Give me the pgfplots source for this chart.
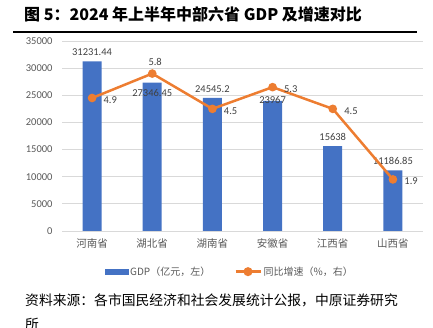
\documentclass[border=0pt]{standalone}
\usepackage{fontspec}
\usepackage{pgfplots}
\pgfplotsset{compat=1.18}
\setmainfont{Carlito}
\newfontfamily\cjk{Noto Sans CJK SC}
\definecolor{barblue}{HTML}{4472C4}
\definecolor{lineor}{HTML}{ED7D31}
\definecolor{gridc}{HTML}{D9D9D9}
\definecolor{tickc}{HTML}{595959}
\definecolor{lblc}{HTML}{404040}
\pgfplotstableread{
x y lab
0 31231.44 31231.44
1 27346.45 27346.45
2 24545.2 24545.2
3 23967 23967
4 15638 15638
5 11186.85 11186.85
}\gdp
\pgfplotstableread{
x y
0 4.9
1 5.8
2 4.5
3 5.3
4 4.5
5 1.9
}\growth
\begin{document}
\begin{tikzpicture}
\path[use as bounding box] (0bp,0bp) rectangle (433bp,328bp);
\node[anchor=west, inner sep=0] at (24bp,314bp) {\cjk\bfseries\fontsize{16bp}{18bp}\selectfont 图 5：2024 年上半年中部六省 GDP 及增速对比};
\draw[line width=2.5bp] (13bp,296bp) -- (417bp,296bp);
\begin{axis}[at={(62bp,97bp)}, anchor=south west, scale only axis,
  width=361bp, height=190bp,
  xmin=-0.5, xmax=5.5, ymin=0, ymax=35000,
  ytick={0,5000,...,35000}, xtick={0,...,5},
  xticklabels={河南省,湖北省,湖南省,安徽省,江西省,山西省},
  axis line style={draw=none}, major tick length=0pt,
  ymajorgrids, grid style={gridc, line width=0.8bp},
  scaled y ticks=false,
  yticklabel style={tickc, font=\fontsize{10.5bp}{12bp}\selectfont, xshift=-6bp,
    /pgf/number format/1000 sep={}, /pgf/number format/assume math mode=true},
  xticklabel style={tickc, font=\cjk\fontsize{10.5bp}{12bp}\selectfont, yshift=-4bp},
  clip=false]
\addplot[ybar, bar width=19bp, bar shift=0pt, fill=barblue, draw=none,
  point meta=explicit symbolic,
  nodes near coords={\pgfplotspointmeta},
  nodes near coords style={lblc, font=\fontsize{10.5bp}{12bp}\selectfont, anchor=south, yshift=2bp},
  coordinate style/.condition={x==1}{yshift=-19.6bp},
  coordinate style/.condition={x==3}{yshift=-8.5bp}]
  table[x=x, y=y, meta=lab] {\gdp};
\end{axis}
\begin{axis}[at={(62bp,97bp)}, anchor=south west, scale only axis,
  width=361bp, height=190bp,
  xmin=-0.5, xmax=5.5, ymin=0, ymax=7,
  hide axis, clip=false,
  legend style={at={(0.465,-0.214)}, anchor=center, draw=none, fill=none,
    legend columns=2, font=\cjk\fontsize{10bp}{12bp}\selectfont, text=tickc,
    /tikz/every even column/.append style={column sep=22bp}}]
\addlegendimage{legend image code/.code={\fill[barblue] (0bp,-2.5bp) rectangle (23bp,2.5bp);}}
\addlegendentry{GDP（亿元，左）}
\addplot[lineor, line width=2.5bp, mark=*, mark size=3bp, mark options={fill=lineor},
  legend image code/.code={\draw[lineor,line width=2.5bp] (0bp,0bp)--(25bp,0bp); \fill[lineor] (12.5bp,0bp) circle (3.2bp);},
  point meta=y,
  nodes near coords,
  nodes near coords style={lblc, font=\fontsize{10.5bp}{12bp}\selectfont, anchor=west, xshift=7bp, yshift=-2bp,
    /pgf/number format/assume math mode=true},
  coordinate style/.condition={x==1}{xshift=-15.3bp, yshift=13.7bp}]
  table[x=x, y=y] {\growth};
\addlegendentry{同比增速（\%，右）}
\end{axis}
\node[anchor=west, inner sep=0] at (25bp,28bp) {\cjk\fontsize{13.8bp}{16bp}\selectfont 资料来源：各市国民经济和社会发展统计公报，中原证券研究};
\node[anchor=north west, inner sep=0] at (25bp,10bp) {\cjk\fontsize{13.8bp}{16bp}\selectfont 所};
\end{tikzpicture}
\end{document}
